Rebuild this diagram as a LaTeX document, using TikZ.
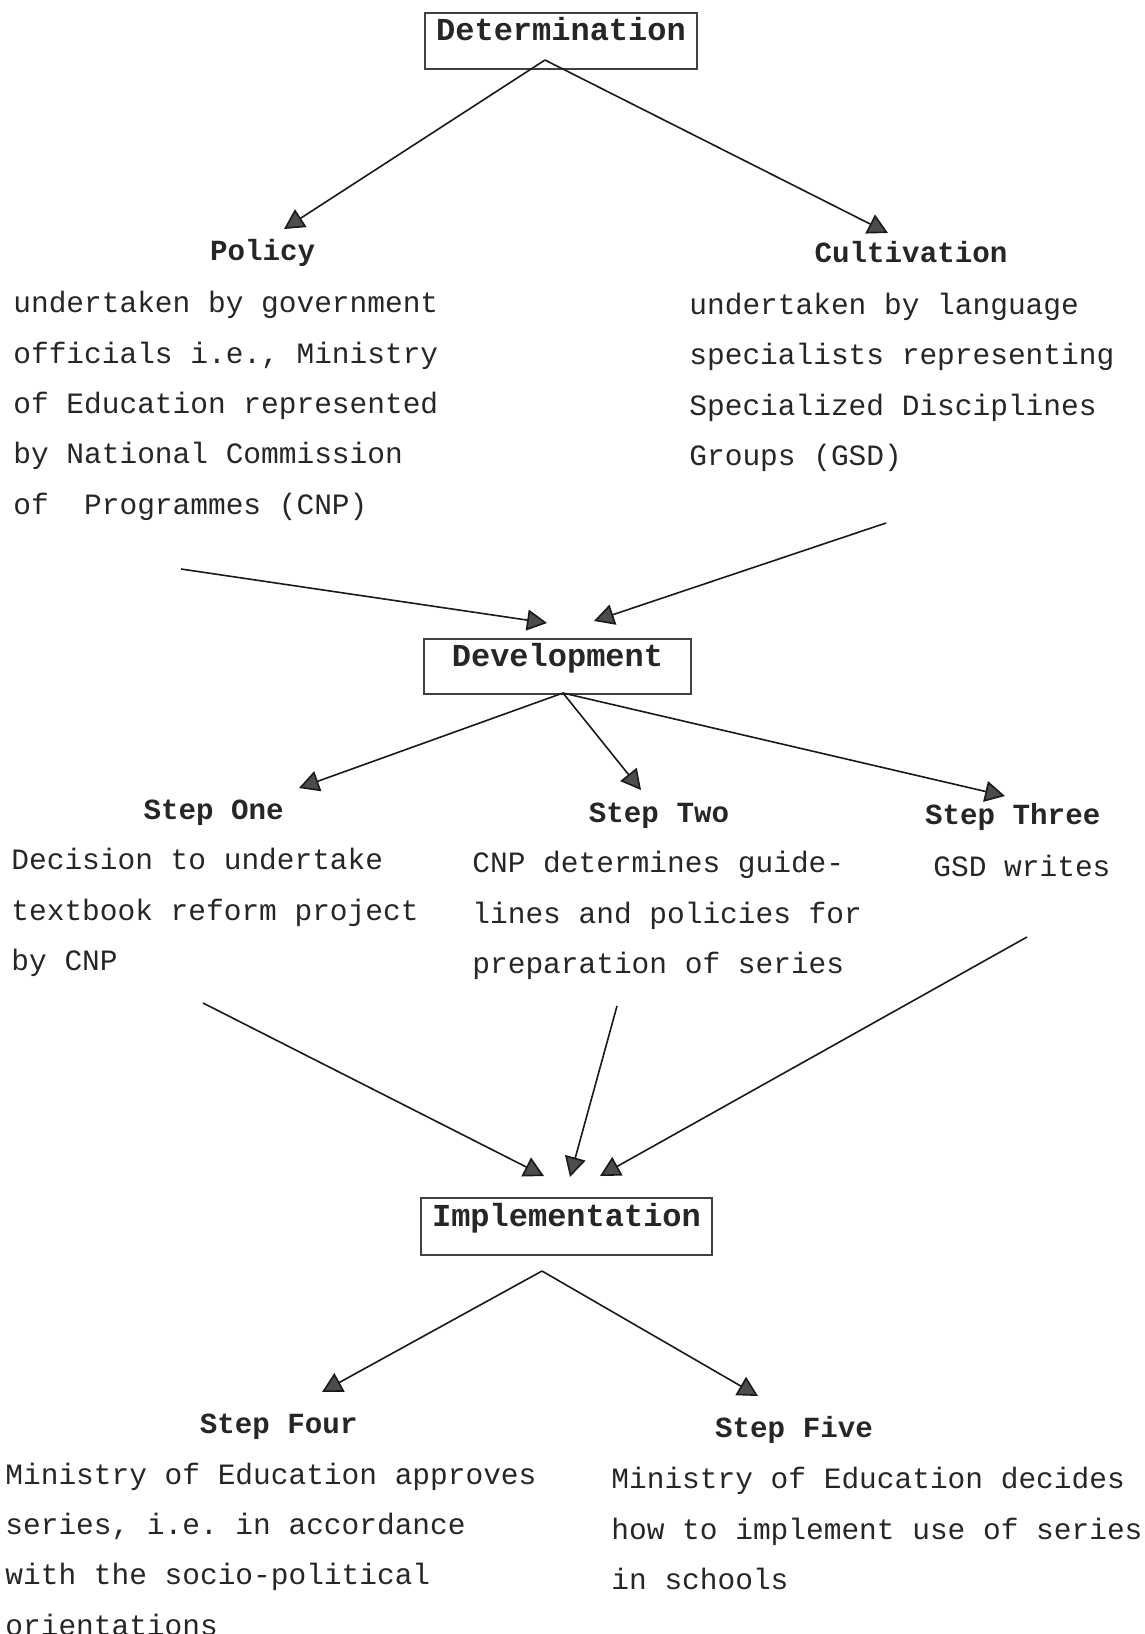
\documentclass[tikz,border=0pt]{standalone}
\usepackage{fontspec}
\setmainfont{Liberation Mono}
\usetikzlibrary{arrows.meta}
\frenchspacing

\begin{document}
\begin{tikzpicture}[x=0.5pt,y=-0.5pt,
  every node/.style={inner sep=0pt, text=black!85},
  stagebox/.style={draw=black!75, line width=0.6pt,
    font=\fontsize{16}{19}\selectfont\bfseries},
  heading/.style={anchor=base, font=\fontsize{14.6}{25.15}\selectfont\bfseries},
  % multi-line text blocks: the base anchor sits on the last line
  bodytext/.style={anchor=base west, align=left,
    font=\fontsize{14.75}{25.15}\selectfont},
  link/.style={draw=black!90, line width=0.8pt,
    -{Triangle[length=10pt,width=10.5pt,fill=black!70]}}
]
\useasboundingbox (0,0) rectangle (1145,1634);

% ---- stage boxes ----
\node[stagebox, minimum width=136pt, text height=13.5pt, text depth=14.5pt]
  (det) at (561,41) {Determination};
\node[stagebox, minimum width=133.5pt, text height=13.9pt, text depth=13.6pt]
  (dev) at (557.5,666.5) {Development};
\node[stagebox, minimum width=145.5pt, text height=14.35pt, text depth=14.15pt]
  (imp) at (566.5,1226.5) {Implementation};

% ---- Determination branch ----
\node[heading] (policy) at (262.6,260.5) {Policy};
\node[heading] (cult) at (911,262.5) {Cultivation};
\node[bodytext] (policytext) at (13,514) {undertaken by government\\
  officials i.e., Ministry\\
  of Education represented\\
  by National Commission\\
  of\ \ Programmes (CNP)};
\node[bodytext] (culttext) at (689,465.5) {undertaken by language\\
  specialists representing\\
  Specialized Disciplines\\
  Groups (GSD)};

% ---- Development branch ----
\node[heading] (stepone) at (213.6,819.5) {Step One};
\node[heading] (steptwo) at (659,822.5) {Step Two};
\node[heading] (stepthree) at (1012.7,824.5) {Step Three};
\node[bodytext] (onetext) at (11,970.5) {Decision to undertake\\
  textbook reform project\\
  by CNP};
\node[bodytext] (twotext) at (472,973.5) {CNP determines guide-\\
  lines and policies for\\
  preparation of series};
\node[bodytext] (threetext) at (933,876) {GSD writes};

% ---- Implementation branch ----
\node[heading] (stepfour) at (278.7,1433) {Step Four};
\node[heading] (stepfive) at (794,1437.5) {Step Five};
\node[bodytext] (fourtext) at (5,1635) {Ministry of Education approves\\
  series, i.e. in accordance\\
  with the socio-political\\
  orientations};
\node[bodytext] (fivetext) at (611,1589.5) {Ministry of Education decides\\
  how to implement use of series\\
  in schools};

% ---- connector end points ----
\coordinate (detapex) at (545,60);
\coordinate (policytip) at (284,229);
\coordinate (culttip) at (888,233);
\coordinate (policyout) at (181,569);
\coordinate (cultout) at (886,523);
\coordinate (devinl) at (547,623);
\coordinate (devinr) at (594,621);
\coordinate (devapex) at (563,693);
\coordinate (onetip) at (299,788);
\coordinate (twotip) at (641,790);
\coordinate (threetip) at (1005,796);
\coordinate (oneout) at (203,1003);
\coordinate (twoout) at (617,1006);
\coordinate (threeout) at (1027,937);
\coordinate (impinl) at (544,1176);
\coordinate (impinm) at (570,1177);
\coordinate (impinr) at (600,1176);
\coordinate (impapex) at (542,1271);
\coordinate (fourtip) at (322,1392);
\coordinate (fivetip) at (758,1396);

% ---- connectors ----
\draw[link] (detapex) -- (policytip);
\draw[link] (detapex) -- (culttip);
\draw[link] (policyout) -- (devinl);
\draw[link] (cultout) -- (devinr);
\draw[link] (devapex) -- (onetip);
\draw[link] (devapex) -- (twotip);
\draw[link] (devapex) -- (threetip);
\draw[link] (oneout) -- (impinl);
\draw[link] (twoout) -- (impinm);
\draw[link] (threeout) -- (impinr);
\draw[link] (impapex) -- (fourtip);
\draw[link] (impapex) -- (fivetip);
\end{tikzpicture}
\end{document}
